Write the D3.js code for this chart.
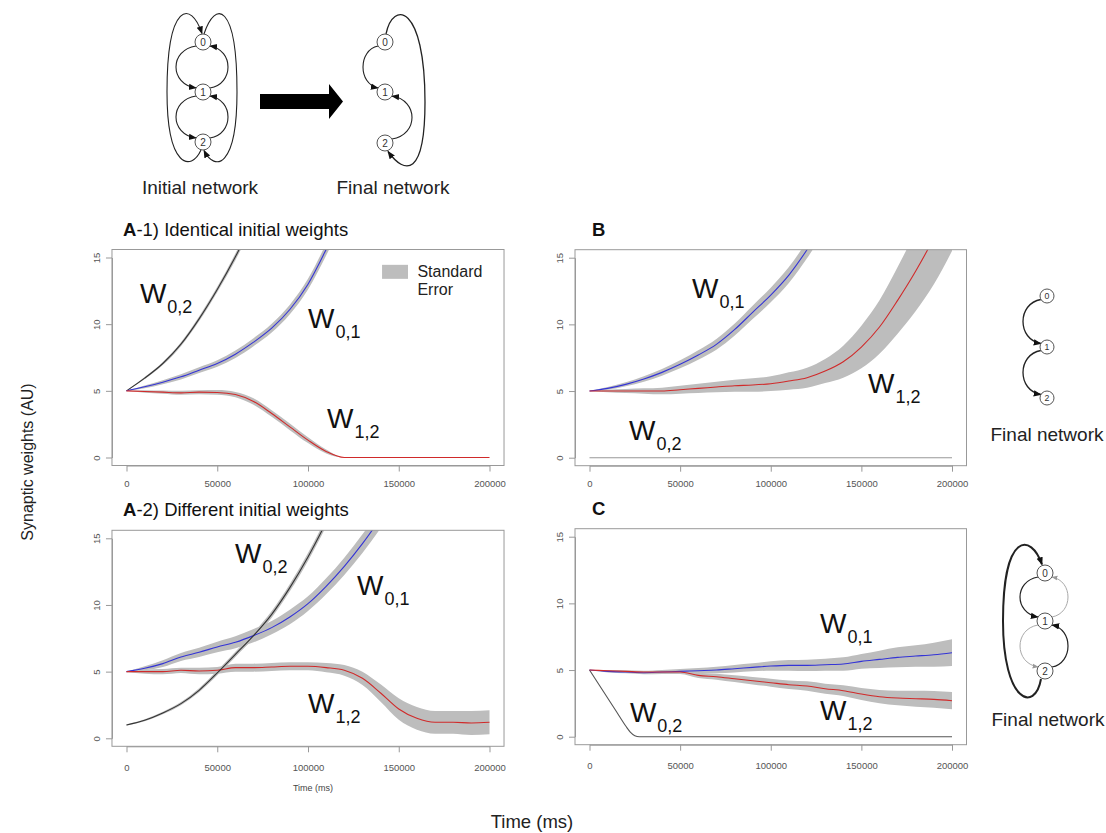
<!DOCTYPE html>
<html>
<head>
<meta charset="utf-8">
<script src="https://cdn.jsdelivr.net/npm/d3@7"></script>
<style>
  body { margin: 0; background: #fff; }
  text { font-family: "Liberation Sans", Arial, Helvetica, sans-serif; }
</style>
</head>
<body>
<svg id="fig" width="1106" height="833"></svg>
<script>
// shared time grid (ms), one value every 10000 ms
const timeGrid = d3.range(0, 200001, 10000);
const xTicks = [0, 50000, 100000, 150000, 200000];
const yTicks = [0, 5, 10, 15];

// A-1) identical initial weights
const a1W02 = [5, 5.95, 7.05, 8.5, 10.4, 12.6, 15.05, 17.8];
const a1W02se = [0, 0.08, 0.12, 0.15, 0.18, 0.2, 0.25, 0.3];
const a1W01 = [5, 5.3, 5.65, 6.05, 6.55, 7.05, 7.75, 8.65, 9.7, 11.1, 13.0, 15.6, 18.5];
const a1W01se = [0, 0.1, 0.15, 0.2, 0.22, 0.25, 0.28, 0.3, 0.33, 0.36, 0.4, 0.45, 0.5];
const a1W12 = [5, 4.95, 4.9, 4.85, 4.9, 4.88, 4.72, 4.2, 3.3, 2.3, 1.3, 0.45, 0, 0, 0, 0, 0, 0, 0, 0, 0];
const a1W12se = [0, 0.1, 0.12, 0.15, 0.15, 0.18, 0.2, 0.25, 0.25, 0.25, 0.22, 0.15, 0, 0, 0, 0, 0, 0, 0, 0, 0];

// A-2) different initial weights
const a2W02 = [1.0, 1.35, 1.9, 2.6, 3.6, 4.9, 6.3, 7.7, 9.3, 11.3, 13.6, 16.2, 19];
const a2W02se = [0.05, 0.08, 0.1, 0.12, 0.15, 0.18, 0.2, 0.22, 0.25, 0.28, 0.3, 0.32, 0.35];
const a2W01 = [5, 5.25, 5.6, 6.1, 6.45, 6.85, 7.2, 7.7, 8.3, 9.1, 10.1, 11.4, 12.9, 14.6, 16.5];
const a2W01se = [0, 0.15, 0.25, 0.3, 0.35, 0.4, 0.45, 0.5, 0.5, 0.55, 0.55, 0.6, 0.65, 0.7, 0.75];
const a2W12 = [5, 5.0, 5.0, 5.1, 5.05, 5.1, 5.3, 5.3, 5.35, 5.4, 5.4, 5.3, 5.1, 4.5, 3.4, 2.2, 1.5, 1.2, 1.2, 1.15, 1.2];
const a2W12se = [0.05, 0.15, 0.2, 0.2, 0.25, 0.25, 0.3, 0.3, 0.3, 0.3, 0.3, 0.35, 0.4, 0.5, 0.65, 0.8, 0.85, 0.85, 0.85, 0.9, 0.9];

// B
const bW01 = [5, 5.2, 5.5, 5.9, 6.4, 7.0, 7.7, 8.5, 9.6, 10.9, 12.2, 13.7, 15.6, 17.8];
const bW01se = [0, 0.1, 0.15, 0.2, 0.25, 0.3, 0.35, 0.4, 0.45, 0.5, 0.55, 0.6, 0.65, 0.7];
const bW12 = [5, 5.0, 5.0, 5.0, 5.0, 5.1, 5.2, 5.3, 5.4, 5.45, 5.55, 5.75, 6.0, 6.5, 7.2, 8.3, 9.8, 11.8, 14.0, 16.5, 19.5];
const bW12se = [0, 0.1, 0.15, 0.2, 0.25, 0.3, 0.35, 0.4, 0.45, 0.5, 0.55, 0.65, 0.75, 0.9, 1.2, 1.6, 2.0, 2.5, 3.0, 3.5, 4.0];
const bW02 = [0, 0, 0, 0, 0, 0, 0, 0, 0, 0, 0, 0, 0, 0, 0, 0, 0, 0, 0, 0, 0];

// C
const cW01 = [5, 4.9, 4.85, 4.8, 4.85, 4.9, 4.95, 5.0, 5.1, 5.2, 5.3, 5.35, 5.35, 5.4, 5.45, 5.65, 5.8, 5.95, 6.05, 6.15, 6.3];
const cW01se = [0, 0.08, 0.1, 0.12, 0.15, 0.18, 0.2, 0.25, 0.28, 0.3, 0.35, 0.4, 0.42, 0.45, 0.5, 0.55, 0.65, 0.75, 0.8, 0.9, 1.0];
const cW12 = [5, 4.95, 4.9, 4.85, 4.85, 4.85, 4.6, 4.5, 4.35, 4.2, 4.05, 3.9, 3.8, 3.6, 3.45, 3.2, 3.0, 2.9, 2.85, 2.8, 2.7];
const cW12se = [0, 0.05, 0.08, 0.1, 0.12, 0.15, 0.2, 0.22, 0.25, 0.28, 0.3, 0.32, 0.35, 0.38, 0.4, 0.45, 0.5, 0.55, 0.6, 0.62, 0.65];
const cW02time = [0, 5000, 10000, 15000, 20000, 22500, 25000, 27500, 200000];
const cW02 = [5, 3.95, 2.9, 1.85, 0.8, 0.35, 0.08, 0, 0];

const svg = d3.select("#fig");
const BAND = "#bdbdbd", BLUE = "#3434d6", RED = "#d02a2a", BLACK = "#333", AXIS = "#999";

const defs = svg.append("defs");
function marker(id, color, size) {
  defs.append("marker")
    .attr("id", id)
    .attr("viewBox", "0 0 10 10")
    .attr("refX", 9).attr("refY", 5)
    .attr("markerUnits", "userSpaceOnUse")
    .attr("markerWidth", size).attr("markerHeight", size)
    .attr("orient", "auto")
    .append("path").attr("d", "M0,1 L10,5 L0,9 z").attr("fill", color);
}
marker("arr", "#111", 8);
marker("arrLight", "#999", 6);

function series(mean, se, color, times) {
  const t = times || timeGrid;
  return { color, pts: mean.map((m, i) => ({ t: t[i], m, s: se ? se[i] : 0 })) };
}

let clipCount = 0;
function drawPanel(cfg) {
  const x = d3.scaleLinear().domain([0, 200000]).range([cfg.xL, cfg.xR]);
  const y = d3.scaleLinear().domain([0, 15]).range([cfg.y0, cfg.y15]);
  const g = svg.append("g");
  const bx0 = x(-8000), bx1 = x(208000), by0 = y(-0.6), by1 = y(15.6);

  const id = "clip" + (clipCount++);
  defs.append("clipPath").attr("id", id)
    .append("rect").attr("x", bx0).attr("y", by1).attr("width", bx1 - bx0).attr("height", by0 - by1);
  const plot = g.append("g").attr("clip-path", "url(#" + id + ")");

  const area = d3.area().x(d => x(d.t)).y0(d => y(d.m - d.s)).y1(d => y(d.m + d.s)).curve(d3.curveMonotoneX);
  const line = d3.line().x(d => x(d.t)).y(d => y(d.m)).curve(d3.curveMonotoneX);

  cfg.series.forEach(s => {
    plot.append("path").attr("d", area(s.pts)).attr("fill", BAND);
  });
  cfg.series.forEach(s => {
    plot.append("path").attr("d", line(s.pts)).attr("fill", "none")
      .attr("stroke", s.color).attr("stroke-width", 1.1);
  });

  g.append("rect").attr("x", bx0).attr("y", by1).attr("width", bx1 - bx0).attr("height", by0 - by1)
    .attr("fill", "none").attr("stroke", AXIS).attr("stroke-width", 1);

  const xa = g.append("g").attr("transform", "translate(0," + by0 + ")")
    .call(d3.axisBottom(x).tickValues(xTicks).tickFormat(d3.format("d")).tickSize(6).tickSizeOuter(0).tickPadding(cfg.xPad));
  const ya = g.append("g").attr("transform", "translate(" + bx0 + ",0)")
    .call(d3.axisLeft(y).tickValues(yTicks).tickSize(6).tickSizeOuter(0));
  [xa, ya].forEach(a => {
    a.selectAll("path,line").attr("stroke", AXIS);
    a.selectAll("text").attr("fill", "#555").style("font-size", "9.5px")
      .style("font-family", "'Liberation Sans', Arial, sans-serif");
  });
  ya.selectAll("text").attr("x", null).attr("dy", null)
    .attr("text-anchor", "middle").attr("transform", "translate(-12,0) rotate(-90)");

  cfg.labels.forEach(l => {
    const t = g.append("text").attr("x", x(l.t)).attr("y", y(l.v))
      .attr("font-size", 28).attr("fill", "#111").text("W");
    t.append("tspan").attr("dx", 1).attr("dy", 10).attr("font-size", 18).text(l.sub);
  });

  const title = g.append("text").attr("x", cfg.titleX).attr("y", by1 - 14)
    .attr("font-size", 18.5).attr("fill", "#111");
  title.append("tspan").attr("font-weight", "bold").text(cfg.letter);
  if (cfg.title) title.append("tspan").text(cfg.title);
  return { x, y, g };
}

const pA1 = drawPanel({
  xL: 126.5, xR: 489.5, y0: 457.5, y15: 257.5, xPad: 9, titleX: 123,
  letter: "A", title: "-1) Identical initial weights",
  series: [series(a1W02, a1W02se, BLACK), series(a1W01, a1W01se, BLUE), series(a1W12, a1W12se, RED)],
  labels: [{ t: 7400, v: 11.6, sub: "0,2" }, { t: 100000, v: 9.7, sub: "0,1" }, { t: 110500, v: 2.2, sub: "1,2" }]
});
const pA2 = drawPanel({
  xL: 126.5, xR: 489.5, y0: 738.3, y15: 538.3, xPad: 12, titleX: 123,
  letter: "A", title: "-2) Different initial weights",
  series: [series(a2W01, a2W01se, BLUE), series(a2W12, a2W12se, RED), series(a2W02, a2W02se, BLACK)],
  labels: [{ t: 59800, v: 13.15, sub: "0,2" }, { t: 127000, v: 10.75, sub: "0,1" }, { t: 100000, v: 1.9, sub: "1,2" }]
});
drawPanel({
  xL: 589.5, xR: 952, y0: 457.7, y15: 257.7, xPad: 9, titleX: 592,
  letter: "B", title: "",
  series: [series(bW02, null, "#999"), series(bW01, bW01se, BLUE), series(bW12, bW12se, RED)],
  labels: [{ t: 56600, v: 12.0, sub: "0,1" }, { t: 153700, v: 4.85, sub: "1,2" }, { t: 21800, v: 1.33, sub: "0,2" }]
});
drawPanel({
  xL: 589.5, xR: 952, y0: 736.7, y15: 536.7, xPad: 12, titleX: 592,
  letter: "C", title: "",
  series: [series(cW02, null, "#555", cW02time), series(cW01, cW01se, BLUE), series(cW12, cW12se, RED)],
  labels: [{ t: 127200, v: 7.8, sub: "0,1" }, { t: 127200, v: 1.25, sub: "1,2" }, { t: 22300, v: 1.1, sub: "0,2" }]
});

// legend inside A-1
const lg = pA1.g;
lg.append("rect").attr("x", pA1.x(140800)).attr("y", pA1.y(14.45))
  .attr("width", pA1.x(155100) - pA1.x(140800)).attr("height", pA1.y(13.4) - pA1.y(14.45)).attr("fill", BAND);
lg.append("text").attr("x", pA1.x(160300)).attr("y", pA1.y(13.55)).attr("font-size", 16).attr("fill", "#222").text("Standard");
lg.append("text").attr("x", pA1.x(160300)).attr("y", pA1.y(12.2)).attr("font-size", 16).attr("fill", "#222").text("Error");

// small x title under A-2
svg.append("text").attr("x", 313).attr("y", 791).attr("text-anchor", "middle")
  .attr("font-size", 9).attr("fill", "#444").text("Time (ms)");

// shared axis titles
svg.append("text").attr("transform", "translate(27,462) rotate(-90)").attr("text-anchor", "middle")
  .attr("dy", "0.35em").attr("font-size", 16).attr("fill", "#222").text("Synaptic weights (AU)");
svg.append("text").attr("x", 532).attr("y", 828).attr("text-anchor", "middle")
  .attr("font-size", 18.5).attr("fill", "#222").text("Time (ms)");

// ---- network diagrams ----
function node(g, cx, cy, r, label) {
  g.append("circle").attr("cx", cx).attr("cy", cy).attr("r", r)
    .attr("fill", "#fff").attr("stroke", "#555").attr("stroke-width", 1);
  g.append("text").attr("x", cx).attr("y", cy).attr("dy", "0.35em").attr("text-anchor", "middle")
    .attr("font-size", r * 1.25).attr("fill", "#333").text(label);
}
// arc from node at ya to node at yb on one side (s = -1 left, +1 right)
function sideArc(cx, ya, yb, r, s, bulge) {
  const d = Math.sign(yb - ya);
  const sx = cx + s * r * 0.87, sy = ya + d * r * 0.5;
  const ex = cx + s * r * 0.87, ey = yb - d * r * 0.5;
  const c = (bulge - 0.25 * r * 0.87) / 0.75;
  return `M${sx},${sy} C${cx + s * c},${sy + d * 4} ${cx + s * c},${ey - d * 4} ${ex},${ey}`;
}
function edge(g, d, opts) {
  opts = opts || {};
  g.append("path").attr("d", d).attr("fill", "none")
    .attr("stroke", opts.color || "#222").attr("stroke-width", opts.w || 1.1)
    .attr("marker-end", opts.noArrow ? null : "url(#" + (opts.marker || "arr") + ")");
}
function label(g, cx, y, txt) {
  g.append("text").attr("x", cx).attr("y", y).attr("text-anchor", "middle")
    .attr("font-size", 19).attr("fill", "#222").text(txt);
}

const net = svg.append("g");
// initial network
{
  const cx = 203, y0 = 42, y1 = 92, y2 = 142, r = 8;
  edge(net, sideArc(cx, y0, y1, r, -1, 27));
  edge(net, sideArc(cx, y1, y0, r, 1, 25));
  edge(net, sideArc(cx, y1, y2, r, -1, 27));
  edge(net, sideArc(cx, y2, y1, r, 1, 25));
  edge(net, `M${cx - 2},${y2 + r} C${cx - 12},${y2 + 30} ${cx - 36},${y2 + 26} ${cx - 36},${y1} C${cx - 36},${y0 - 40} ${cx - 12},${y0 - 42} ${cx - 1},${y0 - r - 0.5}`);
  edge(net, `M${cx + 1},${y0 - r} C${cx + 12},${y0 - 42} ${cx + 34},${y0 - 40} ${cx + 34},${y1} C${cx + 34},${y2 + 26} ${cx + 12},${y2 + 30} ${cx + 1},${y2 + r + 0.5}`);
  [y0, y1, y2].forEach((yy, i) => node(net, cx, yy, r, i));
  label(net, 200, 194, "Initial network");
}
// big arrow
net.append("path").attr("d", "M260,94 L329,94 L329,84 L343,101.5 L329,119 L329,109 L260,109 Z").attr("fill", "#000");
// final network (top)
{
  const cx = 385, y0 = 42, y1 = 92, y2 = 143, r = 8;
  edge(net, sideArc(cx, y0, y1, r, -1, 22));
  edge(net, sideArc(cx, y2, y1, r, 1, 27));
  edge(net, `M${cx + 1},${y0 - r} C${cx + 8},${y0 - 42} ${cx + 40},${y0 - 38} ${cx + 40},${y1 + 10} C${cx + 40},${y2 + 34} ${cx + 20},${y2 + 32} ${cx + 3},${y2 + r + 0.5}`, { w: 1.3 });
  [y0, y1, y2].forEach((yy, i) => node(net, cx, yy, r, i));
  label(net, 393, 194, "Final network");
}
// final network for B
{
  const cx = 1047, y0 = 296, y1 = 347, y2 = 398, r = 7;
  edge(net, sideArc(cx, y0, y1, r, -1, 24), { w: 1.3 });
  edge(net, sideArc(cx, y1, y2, r, -1, 24), { w: 1.3 });
  [y0, y1, y2].forEach((yy, i) => node(net, cx, yy, r, i));
  label(net, 1047, 441, "Final network");
}
// final network for C
{
  const cx = 1045, y0 = 573, y1 = 621, y2 = 671, r = 8;
  edge(net, sideArc(cx, y0, y1, r, -1, 25), { w: 1.2 });
  edge(net, sideArc(cx, y1, y0, r, 1, 23), { color: "#aaa", w: 1, marker: "arrLight" });
  edge(net, sideArc(cx, y1, y2, r, -1, 25), { color: "#aaa", w: 1, marker: "arrLight" });
  edge(net, sideArc(cx, y2, y1, r, 1, 23), { w: 1.2 });
  edge(net, `M${cx - 4},${y2 + r} C${cx - 10},${y2 + 42} ${cx - 42},${y2 + 32} ${cx - 42},${y1} C${cx - 42},${y0 - 42} ${cx - 14},${y0 - 40} ${cx - 3},${y0 - r - 0.5}`, { w: 2 });
  [y0, y1, y2].forEach((yy, i) => node(net, cx, yy, r, i));
  label(net, 1048, 726, "Final network");
}
</script>
</body>
</html>
